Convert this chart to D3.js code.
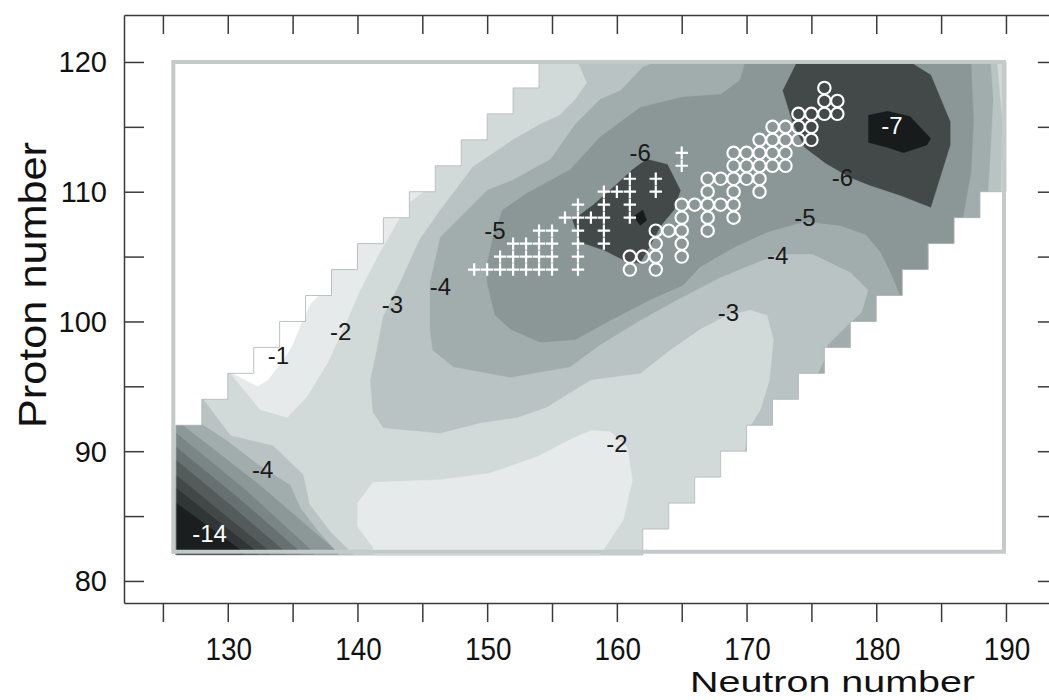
<!DOCTYPE html>
<html><head><meta charset="utf-8">
<script src="https://cdn.jsdelivr.net/npm/d3@7"></script>
<style>body{margin:0;background:#fff}svg{display:block}text{font-family:"Liberation Sans",Arial,Helvetica,sans-serif}</style>
</head><body>
<svg id="chart" width="1049" height="700"></svg>
<script>
// ---------- data (neutron number N, proton number Z) ----------
const xTickValues = [125,130,135,140,145,150,155,160,165,170,175,180,185,190];
const xTickLabels = [130,140,150,160,170,180,190];
const yTickValues = [80,85,90,95,100,105,110,115,120];
const yTickLabels = [80,90,100,110,120];

// calculated region (staircase outline)
const domainOutline = [[126,82],[126,92],[128,92],[128,94],[130,94],[130,96],[132,96],[132,98],[134,98],[134,100],[136,100],[136,102],[138,102],[138,104],[140,104],[140,106],[142,106],[142,108],[144,108],[144,110],[146,110],[146,112],[148,112],[148,114],[150,114],[150,116],[152,116],[152,118],[154,118],[154,120],[190,120],[190,110],[188,110],[188,108],[186,108],[186,106],[184,106],[184,104],[182,104],[182,102],[180,102],[180,100],[178,100],[178,98],[176,98],[176,96],[174,96],[174,94],[172,94],[172,92],[170,92],[170,90],[168,90],[168,88],[166,88],[166,86],[164,86],[164,84],[162,84],[162,82]];

// contour regions (value ranges, MeV)
const above2Upper = [[130.2,96.0],[132.5,93.2],[134.6,92.6],[136.1,94.2],[137.7,96.8],[138.9,99.4],[140.2,102.4],[141.6,105.1],[143.1,107.7],[143.9,109.1],[145.1,110.0],[143.3,111.7],[129.4,97.8],[129.8,96.4]];
const above1 = [[130.0,96.2],[132.3,95.0],[133.1,95.5],[134.2,96.9],[135.0,98.2],[135.6,99.7],[136.4,101.4],[137.0,102.0],[136.4,102.4],[135.6,103.2],[129.0,97.0]];
const above2Lower = [[141.2,82.6],[140.0,84.2],[140.0,86.0],[141.2,87.6],[146.4,87.8],[150.2,88.3],[153.9,89.6],[156.4,90.9],[158.0,91.6],[159.5,91.5],[160.8,90.3],[161.2,87.8],[160.5,84.7],[159.3,82.9],[158.7,82.0],[158.7,80.5],[141.2,80.5]];
const below3Main = [[156.8,121],[157.0,120.0],[157.7,118.4],[156.8,117.1],[155.6,115.9],[154.1,115.2],[152.0,114.0],[148.9,111.9],[146.4,108.6],[144.8,106.3],[143.3,103.0],[142.0,100.4],[141.5,97.8],[141.0,95.5],[141.2,93.0],[142.0,91.8],[146.4,91.4],[149.5,92.2],[152.3,92.6],[154.6,93.4],[158.0,95.5],[161.8,96.0],[164.1,97.8],[166.4,99.4],[168.5,100.5],[170.3,100.9],[171.6,100.5],[172.1,98.6],[171.8,95.5],[171.1,93.2],[170.1,91.6],[169.8,89.3],[190.3,89.3],[190.3,101.7],[189.6,109.75],[189.7,115.5],[189.3,120.0],[189.3,121]];
const below3Corner = [[127.1,94.6],[128.1,94.0],[130.2,91.2],[133.5,90.4],[135.8,88.2],[136.3,85.9],[137.9,83.8],[139.8,81.9],[139.8,80.5],[124.8,80.5],[124.8,94.6]];
const below4Main = [[163.0,121],[163.0,120.0],[162.0,119.6],[160.3,117.8],[158.7,117.1],[156.8,115.2],[154.9,112.5],[152.0,110.9],[150.0,110.1],[148.5,108.6],[146.4,106.5],[145.6,103.0],[145.6,99.4],[145.8,97.8],[147.4,96.5],[151.8,95.7],[156.4,96.5],[158.7,98.2],[161.8,100.1],[164.9,101.8],[168.0,103.4],[172.4,105.2],[175.1,105.2],[178.0,103.8],[179.4,102.4],[178.9,100.7],[177.6,99.5],[176.3,98.2],[176.0,97.0],[175.3,95.5],[190.3,95.5],[190.3,101.3],[188.6,109.75],[188.8,113.2],[189.0,117.1],[188.8,120.0],[188.8,121]];
const below4Corner = [[126.0,93.6],[127.5,92.4],[129.8,90.9],[132.7,88.7],[134.8,87.4],[135.6,85.6],[137.0,83.8],[138.7,81.9],[138.7,80.5],[124.8,80.5],[124.8,93.6]];
// steep corner bands (left edge Z, middle point, bottom N)
const cornerBands = [
  [[124.8,92.4],[126.0,92.4],[132.35,87.48],[138.44,82.24],[138.44,80.5],[124.8,80.5]],
  [[124.8,91.41],[126.0,91.41],[131.35,87.02],[136.59,82.24],[136.59,80.5],[124.8,80.5]],
  [[124.8,90.33],[126.0,90.33],[130.81,86.4],[135.59,82.24],[135.59,80.5],[124.8,80.5]],
  [[124.8,89.33],[126.0,89.33],[130.19,85.86],[134.43,82.24],[134.43,80.5],[124.8,80.5]],
  [[124.8,88.17],[126.0,88.17],[129.65,85.17],[133.28,82.24],[133.28,80.5],[124.8,80.5]],
  [[124.8,87.17],[126.0,87.17],[129.11,84.7],[132.27,82.24],[132.27,80.5],[124.8,80.5]],
  [[124.8,86.01],[126.0,86.01],[128.65,84.09],[131.19,82.24],[131.19,80.5],[124.8,80.5]]
];
const cornerColors = ["#8c9898","#7a8585","#677171","#545b5b","#424848","#303535","#1b1e1e"];
const below5 = [[169.9,121],[169.9,120],[169.5,118.6],[168.0,117.5],[165.1,117.3],[161.8,116.5],[158.7,114.2],[156.4,111.7],[153.1,109.9],[151.2,108.6],[150.5,106.7],[150.0,104.4],[150.0,103.0],[150.6,100.5],[151.8,99.4],[154.1,98.4],[156.8,98.6],[159.5,100.1],[162.6,101.7],[165.1,102.8],[166.4,104.2],[169.0,105.7],[171.6,106.9],[174.5,107.7],[177.2,107.4],[179.2,106.7],[180.3,105.4],[181.1,103.8],[181.9,101.9],[190.3,101.9],[186.5,107.0],[187.3,111.5],[187.5,115.4],[187.3,120],[187.3,121]];
const below6Left = [[156.6,107.8],[158.2,109.0],[159.9,110.5],[161.2,111.7],[162.3,112.5],[163.9,112.1],[164.9,110.1],[164.4,108.6],[163.4,107.4],[162.6,105.9],[161.8,104.5],[160.8,104.6],[159.0,105.5],[157.2,106.1]];
const below6Right = [[172.8,117.8],[173.8,119.8],[173.9,121],[182.9,121],[182.9,119.8],[184.2,119.0],[185.7,115.4],[185.7,113.6],[184.2,108.8],[181.9,109.7],[179.5,110.5],[178.0,111.1],[176.1,112.2],[174.5,113.4],[173.6,115.2]];
const below7Right = [[179.4,115.9],[180.9,116.2],[182.6,115.8],[184.2,114.1],[183.9,113.6],[182.1,113.0],[180.9,113.4],[179.4,113.8]];
const below7Left = [[161.3,108.1],[162.0,108.6],[162.3,107.8],[161.8,107.4]];

// contour labels
const contourLabels = [
  {t:"-1",p:[133.9,97.4]},{t:"-2",p:[138.7,99.2]},{t:"-3",p:[142.7,101.3]},{t:"-4",p:[146.4,102.7]},
  {t:"-5",p:[150.6,107.05]},{t:"-6",p:[161.8,113.0]},{t:"-7",p:[181.2,115.15],w:true},
  {t:"-6",p:[177.4,111.1]},{t:"-5",p:[174.5,108.0]},{t:"-4",p:[172.4,105.1]},{t:"-3",p:[168.6,100.7]},
  {t:"-2",p:[160.0,90.6]},{t:"-4",p:[132.7,88.6]},{t:"-14",p:[128.6,83.7],w:true}
];

// markers
const crosses = [[149,104],[150,104],[151,104],[152,104],[153,104],[154,104],[155,104],[157,104],
  [151,105],[152,105],[153,105],[154,105],[155,105],[157,105],
  [152,106],[153,106],[154,106],[155,106],[157,106],[159,106],
  [154,107],[155,107],[157,107],[159,107],
  [156,108],[157,108],[158,108],[159,108],[161,108],
  [157,109],[159,109],[161,109],
  [159,110],[160,110],[161,110],[163,110],
  [161,111],[163,111],[165,112],[165,113]];
const circles = [[161,104],[163,104],[161,105],[162,105],[163,105],[165,105],[163,106],[165,106],
  [163,107],[164,107],[165,107],[167,107],[165,108],[167,108],[169,108],
  [165,109],[166,109],[167,109],[168,109],[169,109],[167,110],[169,110],[171,110],
  [167,111],[168,111],[169,111],[170,111],[171,111],[169,112],[170,112],[171,112],[172,112],[173,112],
  [169,113],[170,113],[171,113],[172,113],[173,113],[171,114],[172,114],[173,114],[174,114],[175,114],
  [172,115],[173,115],[174,115],[175,115],[174,116],[175,116],[176,116],[177,116],[176,117],[177,117],[176,118]];

// ---------- drawing ----------
const svg = d3.select("#chart");
const x = d3.scaleLinear().domain([122,194]).range([124,124+72*12.97]);
const y = d3.scaleLinear().domain([78.3,123.62]).range([603,15]);
const line = d3.line().x(d=>x(d[0])).y(d=>y(d[1]));
const closed = pts => line(pts) + "Z";

const defs = svg.append("defs");
defs.append("clipPath").attr("id","dom").append("path").attr("d",closed(domainOutline));

const g = svg.append("g").attr("clip-path","url(#dom)");
const fills = [
  [domainOutline,"#d2d9d9"],
  [above2Upper,"#e6eaea"],[above2Lower,"#e6eaea"],[above1,"#ffffff"],
  [below3Main,"#b9c3c3"],[below3Corner,"#b9c3c3"],
  [below4Main,"#a1adad"],[below4Corner,"#a1adad"]
];
cornerBands.forEach((b,i)=>fills.push([b,cornerColors[i]]));
fills.push([below5,"#8b9797"],[below6Left,"#434949"],[below6Right,"#434949"],[below7Right,"#181b1b"],[below7Left,"#181b1b"]);
g.selectAll("path.lev").data(fills).join("path").attr("class","lev")
  .attr("d",d=>closed(d[0])).attr("fill",d=>d[1]).attr("stroke",d=>d[1]).attr("stroke-width",0.4);

svg.append("path").attr("d",closed(domainOutline)).attr("fill","none").attr("stroke","#aeb6b6").attr("stroke-width",0.8);
svg.append("rect").attr("x",x(125.8)).attr("y",y(120)).attr("width",x(189.85)-x(125.8)).attr("height",y(82.25)-y(120))
  .attr("fill","none").attr("stroke","#c2caca").attr("stroke-width",4);

// markers
const cs = 6.2;
svg.append("g").selectAll("path").data(crosses).join("path")
  .attr("d",d=>`M${x(d[0])-cs},${y(d[1])}H${x(d[0])+cs}M${x(d[0])},${y(d[1])-cs}V${y(d[1])+cs}`)
  .attr("stroke","#fff").attr("stroke-width",2.2).attr("fill","none");
svg.append("g").selectAll("circle").data(circles).join("circle")
  .attr("cx",d=>x(d[0])).attr("cy",d=>y(d[1])).attr("r",6.2)
  .attr("fill","none").attr("stroke","#fff").attr("stroke-width",2.1);

// contour labels
svg.append("g").selectAll("text").data(contourLabels).join("text")
  .attr("x",d=>x(d.p[0])).attr("y",d=>y(d.p[1])).attr("dy","0.36em")
  .attr("text-anchor","middle").attr("font-size",24)
  .attr("fill",d=>d.w?"#ffffff":"#1a1a1a").text(d=>d.t);

// axes
const axStyle = sel => { sel.selectAll("path,line").attr("stroke","#3a3a3a").attr("stroke-width",1.5); sel.selectAll("text").remove(); };
svg.append("g").attr("transform","translate(0,603)")
  .call(d3.axisBottom(x).tickValues(xTickValues).tickSize(19).tickSizeOuter(0).tickFormat("")).call(axStyle);
svg.append("g").attr("transform","translate(0,15)")
  .call(d3.axisBottom(x).tickValues(xTickValues).tickSize(19).tickSizeOuter(0).tickFormat("")).call(axStyle);
svg.append("g").attr("transform","translate(124,0)")
  .call(d3.axisRight(y).tickValues(yTickValues).tickSize(20).tickSizeOuter(0).tickFormat("")).call(axStyle);
svg.append("g").attr("transform",`translate(${124+72*12.97},0)`)
  .call(d3.axisLeft(y).tickValues(yTickValues).tickSize(20).tickSizeOuter(0).tickFormat("")).call(axStyle);

svg.append("g").selectAll("text").data(xTickLabels).join("text")
  .attr("transform",d=>`translate(${x(d)+1},660) scale(0.9,1)`)
  .attr("text-anchor","middle").attr("font-size",31).attr("fill","#111").text(d=>d);
svg.append("g").selectAll("text").data(yTickLabels).join("text")
  .attr("x",107).attr("y",d=>y(d)+10.5)
  .attr("text-anchor","end").attr("font-size",29).attr("fill","#111").text(d=>d);

svg.append("text").attr("x",690).attr("y",692).attr("font-size",29)
  .attr("textLength",285).attr("lengthAdjust","spacingAndGlyphs").attr("fill","#111").text("Neutron  number");
svg.append("text").attr("transform","translate(46,428) rotate(-90)").attr("font-size",38)
  .attr("textLength",286).attr("lengthAdjust","spacingAndGlyphs").attr("fill","#111").text("Proton  number");
</script>
</body></html>
